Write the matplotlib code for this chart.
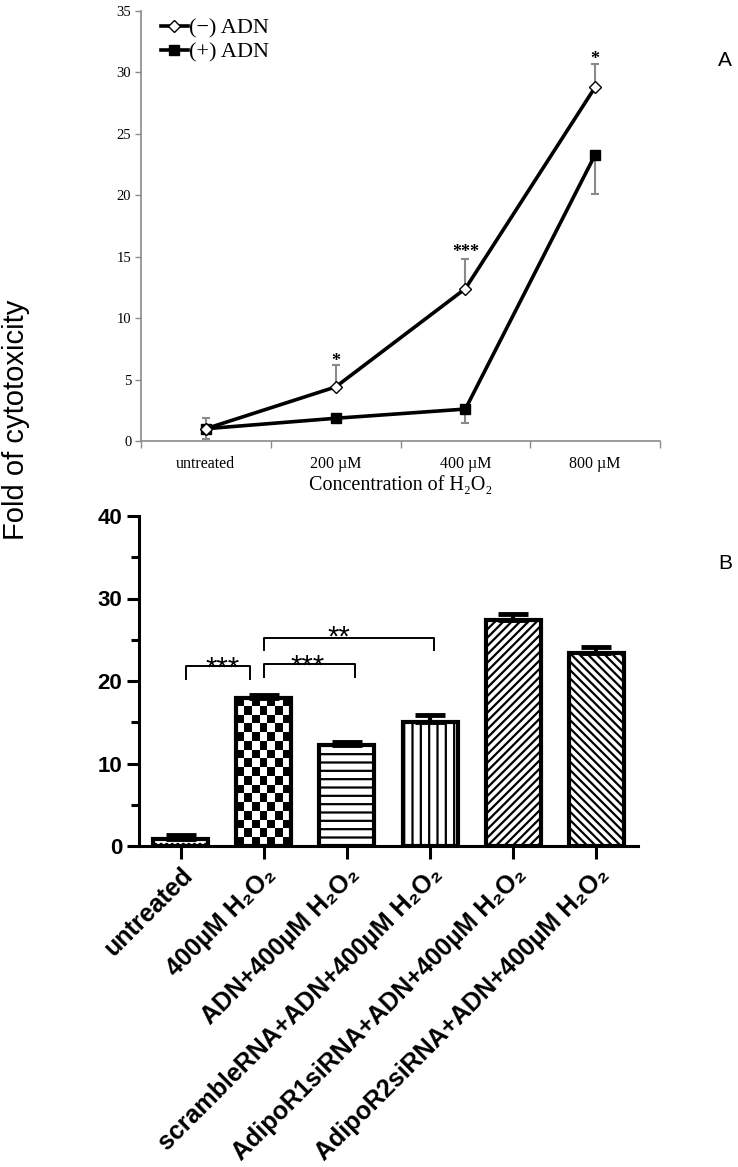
import numpy as np
import matplotlib
matplotlib.use('Agg')
from matplotlib import pyplot as plt

plt.rcParams['font.family'] = ['Liberation Sans', 'DejaVu Sans']
plt.rcParams['hatch.linewidth'] = 1.6

# panel A data
conc_labels = ['untreated', '200 µM', '400 µM', '800 µM']
minus_adn = [1.0, 4.4, 12.4, 28.8]
minus_err = [0.85, 1.8, 2.4, 1.9]
plus_adn = [1.0, 1.85, 2.6, 23.3]
plus_err = [0.85, 0.2, 1.1, 3.2]
stars_a = ['*', '*', '***', '*']
stars_a_show = [False, True, True, True]
stars_a_y = [0, 6.1, 15.0, 30.7]

# panel B data
groups = ['untreated', '400µM H₂O₂', 'ADN+400µM H₂O₂',
          'scrambleRNA+ADN+400µM H₂O₂', 'AdipoR1siRNA+ADN+400µM H₂O₂',
          'AdipoR2siRNA+ADN+400µM H₂O₂']
fold = [0.9, 18.0, 12.3, 15.0, 27.4, 23.4]
fold_err = [0.4, 0.3, 0.35, 0.9, 0.7, 0.7]
patterns = ['...', 'checker', '--', '||', '////', '\\\\\\\\']
# brackets: (left, right, top, leg bottom, label, label x, label baseline)
brackets = [(0.06, 0.84, 21.8, 20.2, '***', 0.5, 20.5),
            (1.0, 2.1, 22.1, 20.5, '***', 1.53, 20.8),
            (1.0, 3.05, 25.2, 23.8, '**', 1.9, 24.3)]

fig = plt.figure(figsize=(7.38, 11.67), dpi=100)

# ---------- panel A ----------
serif = ['Liberation Serif', 'DejaVu Serif']
grey = '#8a8a8a'
axa = fig.add_axes([141/738, 1-441/1167, (660-141)/738, (441-11)/1167])
xa = np.arange(len(conc_labels))
axa.errorbar(xa, plus_adn, yerr=[plus_err, np.zeros(len(xa))], fmt='none',
             ecolor=grey, elinewidth=1.5, capsize=3, capthick=1.5, zorder=2)
axa.errorbar(xa, minus_adn, yerr=[np.zeros(len(xa)), minus_err], fmt='none',
             ecolor=grey, elinewidth=1.5, capsize=3, capthick=1.5, zorder=2)
l_plus, = axa.plot(xa, plus_adn, color='black', lw=2.6, marker='s', ms=7.5,
                   mfc='black', mec='black', zorder=3, label='(+) ADN')
l_minus, = axa.plot(xa, minus_adn, color='black', lw=2.6, marker='D', ms=6,
                    mfc='white', mec='black', mew=1, zorder=4, label='(−) ADN')
for x, s, show, y in zip(xa, stars_a, stars_a_show, stars_a_y):
    if show:
        axa.text(x, y, s, ha='center', va='baseline', fontsize=13,
                 fontweight='bold', family=serif)

axa.set_xlim(-0.5, 3.5)
axa.set_ylim(0, 35)
axa.set_yticks(np.arange(0, 36, 5))
axa.set_xticks(np.arange(-0.5, 3.6, 1))
axa.set_xticklabels([])
axa.set_xticks(xa, minor=True)
axa.set_xticklabels(conc_labels, minor=True, family=serif, fontsize=11.5)
axa.tick_params(axis='x', which='minor', length=0, pad=11)
axa.tick_params(axis='x', which='major', length=5, color=grey, width=1)
axa.tick_params(axis='y', length=4, color=grey, width=1, pad=3)
for lab in axa.get_yticklabels():
    lab.set_family(serif)
    lab.set_fontsize(10.5)
for side in ['top', 'right']:
    axa.spines[side].set_visible(False)
for side in ['left', 'bottom']:
    axa.spines[side].set_color(grey)
    axa.spines[side].set_linewidth(1.2)
axa.set_xlabel('Concentration of H₂O₂', family=serif, fontsize=14.5, labelpad=3)
axa.legend(handles=[l_minus, l_plus], loc='upper left', bbox_to_anchor=(0.0, 1.03),
           frameon=False, prop={'family': serif, 'size': 16}, handlelength=1.2,
           handletextpad=0.05, labelspacing=0.15)

# ---------- panel B ----------
axb = fig.add_axes([139/738, 1-846/1167, (638-139)/738, (846-516)/1167])
xb = np.arange(len(groups))
bars = axb.bar(xb, fold, width=0.66, color='white', edgecolor='black',
               linewidth=3, zorder=2)
for bar, pat in zip(bars, patterns):
    if pat == 'checker':
        bar.set_facecolor('none')
        x0, w, h = bar.get_x(), bar.get_width(), bar.get_height()
        nrow = int(round(h / 1.05))
        board = np.indices((nrow, 7)).sum(axis=0) % 2
        im = axb.imshow(board, cmap='gray', extent=(x0, x0 + w, 0, h),
                        aspect='auto', interpolation='nearest', origin='lower',
                        zorder=1)
        im.set_clip_path(bar)
    else:
        bar.set_hatch(pat)
axb.errorbar(xb, fold, yerr=[np.zeros(len(xb)), fold_err], fmt='none',
             ecolor='black', elinewidth=3, capsize=11, capthick=3.5, zorder=3)

for x1, x2, top, leg, lab, lx, ly in brackets:
    axb.plot([x1, x1, x2, x2], [leg, top, top, leg], color='black', lw=1.4,
             zorder=3)
    axb.text(lx, ly, lab, ha='center', va='baseline', fontsize=21)

axb.set_xlim(-0.5, 5.5)
axb.set_ylim(0, 40)
axb.set_yticks(np.arange(0, 41, 10))
axb.set_yticks(np.arange(5, 40, 10), minor=True)
axb.set_xticks(xb)
axb.set_xticklabels(groups, rotation=45, ha='right', va='top',
                    rotation_mode='anchor', fontsize=18, fontweight='bold')
axb.tick_params(axis='both', which='major', length=9, width=2.2, pad=3)
axb.tick_params(axis='y', which='minor', length=6, width=2.2)
axb.tick_params(axis='y', labelsize=16)
for lab in axb.get_yticklabels():
    lab.set_fontweight('bold')
for side in ['top', 'right']:
    axb.spines[side].set_visible(False)
for side in ['left', 'bottom']:
    axb.spines[side].set_linewidth(2.2)

# shared label and panel letters
fig.text(16/738, 1-420/1167, 'Fold of cytotoxicity', rotation=90,
         ha='center', va='center', fontsize=21)
fig.text(725/738, 1-60/1167, 'A', ha='center', va='center', fontsize=15)
fig.text(725/738, 1-563/1167, 'B', ha='center', va='center', fontsize=15)

fig.savefig('out.png', dpi=100)
